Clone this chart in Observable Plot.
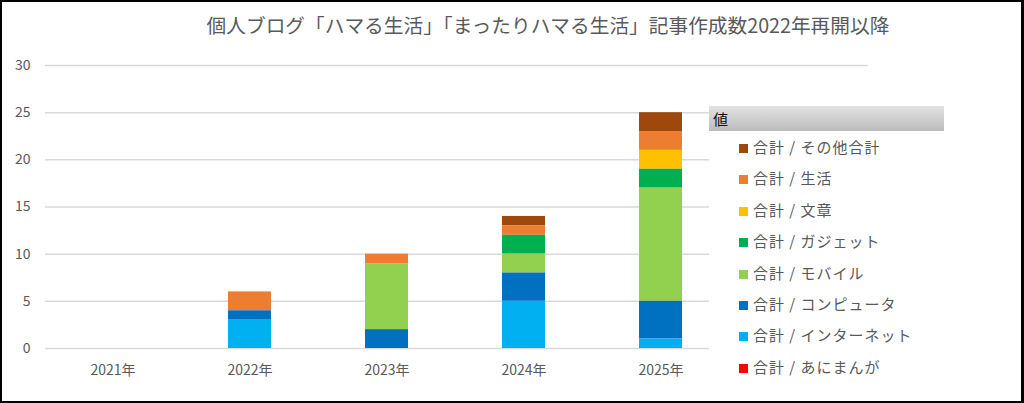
<!DOCTYPE html>
<html><head><meta charset="utf-8">
<script src="https://cdn.jsdelivr.net/npm/d3@7"></script>
<script src="https://cdn.jsdelivr.net/npm/@observablehq/plot@0.6"></script>
<style>
body{margin:0;background:#fff;}
#frame{position:relative;width:1024px;height:403px;overflow:hidden;font-family:"Noto Sans CJK JP","Noto Sans",sans-serif;background:#fff;}
#border{position:absolute;left:0;top:0;width:1024px;height:403px;box-sizing:border-box;border:2px solid #000;border-right-width:3px;z-index:10;}
#title{position:absolute;left:0;width:1096px;top:11px;text-align:center;font-size:19.7px;color:#595959;line-height:28px;white-space:nowrap;}
#chart{position:absolute;left:0;top:0;}
#legend{position:absolute;left:709px;top:106px;width:235px;height:280px;background:#fff;}
#legend .head{height:25px;background:linear-gradient(#e2e2e2,#bcbcbc);font-size:15px;line-height:25px;padding-left:4px;color:#111;}
#legend .item{position:absolute;left:30px;height:20px;font-size:15px;line-height:20px;color:#595959;white-space:nowrap;letter-spacing:1px;}
#legend .sw{display:inline-block;width:9px;height:9px;margin-right:5px;vertical-align:0px;}
</style></head>
<body>
<div id="frame">
  <div id="chart"></div>
  <div id="title">個人ブログ「ハマる生活」「まったりハマる生活」記事作成数2022年再開以降</div>
  <div id="legend"></div>
  <div id="border"></div>
</div>
<script>
const years = ["2021", "2022", "2023", "2024", "2025"];
const seriesNames = ["合計 / その他合計", "合計 / 生活", "合計 / 文章", "合計 / ガジェット", "合計 / モバイル", "合計 / コンピュータ", "合計 / インターネット", "合計 / あにまんが"];
const seriesColors = ["#9E480E", "#ED7D31", "#FFC000", "#00B050", "#92D050", "#0070C0", "#00B0F0", "#FF0000"];
const other    = [0, 0, 0, 1, 2];
const life     = [0, 2, 1, 1, 2];
const writing  = [0, 0, 0, 0, 2];
const gadget   = [0, 0, 0, 2, 2];
const mobile   = [0, 0, 7, 2, 12];
const computer = [0, 1, 2, 3, 4];
const internet = [0, 3, 0, 5, 1];
const animanga = [0, 0, 0, 0, 0];
const yTicks = [0, 5, 10, 15, 20, 25, 30];

const seriesValues = [other, life, writing, gadget, mobile, computer, internet, animanga];
const data = [];
seriesNames.forEach((s, i) => years.forEach((y, j) => {
  if (seriesValues[i][j] > 0) data.push({year: y, series: s, value: seriesValues[i][j]});
}));
const stackOrder = seriesNames.slice().reverse();

const plot = Plot.plot({
  width: 1024, height: 403,
  marginLeft: 45, marginRight: 156, marginTop: 65, marginBottom: 55,
  style: {color: "#595959", fontFamily: '"Noto Sans CJK JP", sans-serif', fontSize: "14px", background: "transparent"},
  x: {domain: years, range: [44.5, 729.5], paddingInner: 0.686, paddingOuter: 0.343, label: null},
  y: {domain: [0, 30], label: null},
  color: {domain: seriesNames, range: seriesColors},
  marks: [
    Plot.ruleY(yTicks, {stroke: "#d9d9d9", strokeWidth: 1.5}),
    Plot.axisY({ticks: yTicks, tickSize: 0, tickPadding: 15, fontSize: 14, label: null}),
    Plot.axisX({tickSize: 0, tickPadding: 17, fontSize: 14, tickFormat: d => d + "年", label: null}),
    Plot.barY(data, Plot.stackY({order: stackOrder}, {x: "year", y: "value", fill: "series"}))
  ]
});
document.getElementById("chart").appendChild(plot);

const legend = document.getElementById("legend");
const head = document.createElement("div");
head.className = "head"; head.textContent = "値";
legend.appendChild(head);
seriesNames.forEach((s, i) => {
  const it = document.createElement("div");
  it.className = "item";
  it.style.top = (31 + i * 31.4) + "px";
  const sw = document.createElement("span");
  sw.className = "sw"; sw.style.background = seriesColors[i];
  it.appendChild(sw);
  it.appendChild(document.createTextNode(s));
  legend.appendChild(it);
});
</script>
</body></html>
